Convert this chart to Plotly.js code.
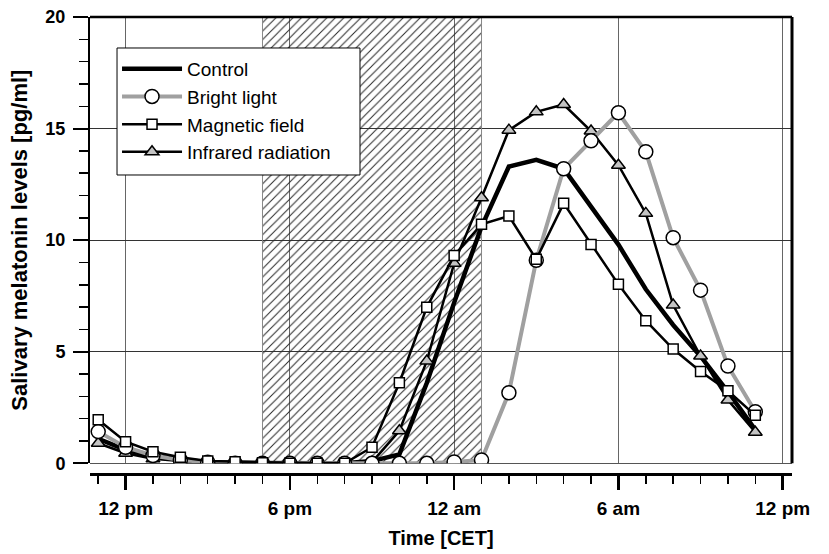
<!DOCTYPE html>
<html>
<head>
<meta charset="utf-8">
<script src="https://cdn.plot.ly/plotly-3.0.1.min.js"></script>
<style>
  html, body { margin: 0; padding: 0; background: #fff; }
  #chart { width: 829px; height: 554px; }
</style>
</head>
<body>
<div id="chart"></div>
<script>
// Sampling times, in hours from midnight of day 1 (11 am day 1 ... 11 am day 2)
const hours = [11, 12, 13, 14, 15, 16, 17, 18, 19, 20, 21, 22, 23, 24,
               25, 26, 27, 28, 29, 30, 31, 32, 33, 34, 35];

// Salivary melatonin levels [pg/ml]
const control   = [1.1, 0.6, 0.3, 0.15, 0.05, 0.02, 0, 0, 0, 0, 0.1, 0.4, 3.6, 7.2,
                   10.6, 13.3, 13.6, 13.2, 11.5, 9.8, 7.8, 6.2, 4.8, 3.2, 1.5];
const bright    = [1.42, 0.72, 0.35, 0.15, 0.05, 0, 0, 0, 0, 0, 0, 0, 0, 0.06,
                   0.15, 3.16, 9.1, 13.2, 14.45, 15.71, 13.96, 10.11, 7.76, 4.36, 2.31];
const magnetic  = [1.95, 0.97, 0.52, 0.27, 0.1, 0.07, 0.03, 0, 0, 0, 0.72, 3.61, 6.99, 9.31,
                   10.71, 11.08, 9.14, 11.65, 9.81, 8.02, 6.39, 5.12, 4.11, 3.25, 2.15];
const infrared  = [0.9, 0.45, 0.2, 0.1, 0.05, 0.02, 0, 0, 0, 0, 0.05, 1.46, 4.58, 8.96,
                   11.9, 14.93, 15.75, 16.08, 14.89, 13.36, 11.2, 7.09, 4.81, 2.84, 1.39];

// Exposure period (hatched), 5 pm to 1 am
const darkPeriod = [17, 25];

// Axis ticks
const xTickVals  = [12, 18, 24, 30, 36];
const xTickText  = ['12 pm', '6 pm', '12 am', '6 am', '12 pm'];
const yRange     = [0, 20];

const FONT = 'Liberation Sans, Arial, Helvetica, sans-serif';

const hatch = {
  x: [darkPeriod[0], darkPeriod[1], darkPeriod[1], darkPeriod[0], darkPeriod[0]],
  y: [yRange[0], yRange[0], yRange[1], yRange[1], yRange[0]],
  type: 'scatter', mode: 'lines', fill: 'toself',
  fillcolor: 'rgba(0,0,0,0)',
  fillpattern: { shape: '/', size: 6, solidity: 0.17, fgcolor: '#2a2a2a', fgopacity: 1, bgcolor: 'rgba(0,0,0,0)' },
  line: { color: '#888', width: 1 },
  showlegend: false, hoverinfo: 'skip'
};

const tControl = {
  x: hours, y: control, name: 'Control', type: 'scatter', mode: 'lines',
  line: { color: '#000', width: 4.5 }, legendrank: 1
};
const tInfrared = {
  x: hours, y: infrared, name: 'Infrared radiation', type: 'scatter', mode: 'lines+markers',
  line: { color: '#000', width: 2.5 },
  marker: { symbol: 'triangle-up', size: 12, color: '#c4c4c4', line: { color: '#000', width: 1.5 } },
  legendrank: 4
};
const tBright = {
  x: hours, y: bright, name: 'Bright light', type: 'scatter', mode: 'lines+markers',
  line: { color: '#a0a0a0', width: 4 },
  marker: { symbol: 'circle', size: 14, color: '#fff', line: { color: '#000', width: 1.5 } },
  legendrank: 2
};
const tMagnetic = {
  x: hours, y: magnetic, name: 'Magnetic field', type: 'scatter', mode: 'lines+markers',
  line: { color: '#000', width: 2.5 },
  marker: { symbol: 'square', size: 10, color: '#fff', line: { color: '#000', width: 1.5 } },
  legendrank: 3
};

const layout = {
  width: 829, height: 554,
  margin: { l: 90, r: 37, t: 17, b: 80 },
  paper_bgcolor: '#fff', plot_bgcolor: '#fff',
  font: { family: FONT, color: '#000' },
  showlegend: true,
  legend: {
    x: 0.0385, y: 0.928, xanchor: 'left', yanchor: 'top',
    bgcolor: 'rgba(0,0,0,0)', borderwidth: 0,
    font: { family: FONT, size: 19, color: '#000' },
    itemwidth: 60,
    tracegroupgap: 0,
    traceorder: 'normal'
  },
  xaxis: {
    range: [10.7, 36.34],
    anchor: 'free', position: 0,
    showline: true, linecolor: '#000', linewidth: 2.5,
    ticks: 'outside', ticklen: 14, tickwidth: 2.5, tickcolor: '#000',
    tickmode: 'array', tickvals: xTickVals, ticktext: xTickText,
    tickfont: { family: FONT, size: 19, weight: 'bold' },
    ticklabelstandoff: 3,
    minor: { tickmode: 'linear', tick0: 0, dtick: 1, ticks: 'outside', ticklen: 8, tickwidth: 1.5, tickcolor: '#000', showgrid: false },
    showgrid: true, gridcolor: '#666', gridwidth: 1,
    zeroline: false,
    title: { text: 'Time [CET]', font: { family: FONT, size: 20, weight: 'bold' }, standoff: 12 }
  },
  yaxis: {
    domain: [0.0234, 1],
    range: yRange,
    showline: true, linecolor: '#000', linewidth: 2,
    ticks: 'outside', ticklen: 15, tickwidth: 2, tickcolor: '#000',
    dtick: 5, tick0: 0,
    tickfont: { family: FONT, size: 18, weight: 'bold' },
    ticklabelstandoff: 4,
    minor: { dtick: 1, ticks: 'outside', ticklen: 9, tickwidth: 1.5, tickcolor: '#000', showgrid: false },
    showgrid: true, gridcolor: '#333', gridwidth: 1,
    zeroline: true, zerolinecolor: '#555', zerolinewidth: 1,
    title: { text: 'Salivary melatonin levels [pg/ml]', font: { family: FONT, size: 22, weight: 'bold' }, standoff: 12 }
  },
  shapes: [
    // plot frame: top and right edges
    { type: 'line', xref: 'x domain', yref: 'y domain', x0: 0, x1: 1, y0: 1, y1: 1, line: { color: '#000', width: 2.5 } },
    { type: 'line', xref: 'x domain', yref: 'y domain', x0: 1, x1: 1, y0: 0, y1: 1, line: { color: '#000', width: 3 } },
    // legend box
    { type: 'rect', layer: 'above', xref: 'paper', yref: 'paper',
      x0: 0.0385, x1: 0.3846, y0: 0.6543, y1: 0.9322,
      fillcolor: '#fff', line: { color: '#000', width: 1 } }
  ]
};

Plotly.newPlot('chart', [hatch, tControl, tInfrared, tBright, tMagnetic], layout,
  { displayModeBar: false, staticPlot: true });
</script>
</body>
</html>
